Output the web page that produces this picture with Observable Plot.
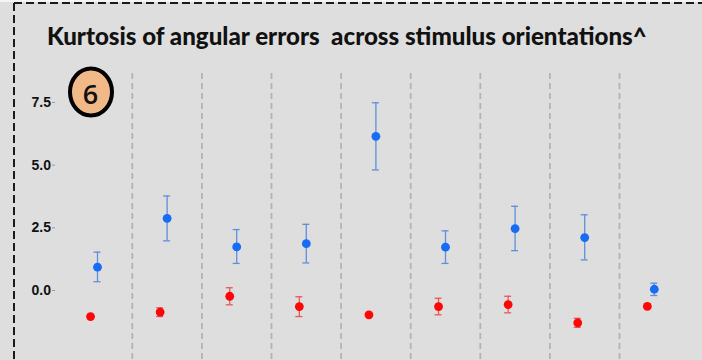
<!DOCTYPE html>
<html>
<head>
<meta charset="utf-8">
<script src="https://cdn.jsdelivr.net/npm/d3@7"></script>
<script src="https://cdn.jsdelivr.net/npm/@observablehq/plot@0.6"></script>
<style>
  html, body { margin: 0; padding: 0; background: #dedede; }
  #wrap { position: relative; width: 702px; height: 360px; background: #dedede; overflow: hidden; }
  #wrap > svg.plot { position: absolute; left: 0; top: 0; }
  #title { position: absolute; left: 47px; top: 24px; font-family: Lato, "Open Sans", sans-serif; font-weight: 900; color: #111; white-space: pre; line-height: 1; }
  #deco { position: absolute; left: 0; top: 0; }
</style>
</head>
<body>
<div id="wrap">
  <div id="title">Kurtosis of angular errors  across stimulus orientations^</div>
</div>
<script>
// ---- data ----
const orientations = [1, 2, 3, 4, 5, 6, 7, 8, 9];
const blueValue = [0.93, 2.88, 1.74, 1.87, 6.15, 1.73, 2.47, 2.11, 0.05];
const blueLow   = [0.35, 1.98, 1.08, 1.10, 4.81, 1.08, 1.59, 1.22, -0.20];
const blueHigh  = [1.53, 3.77, 2.43, 2.64, 7.49, 2.38, 3.36, 3.02, 0.29];
const redValue  = [-1.04, -0.86, -0.23, -0.64, -0.97, -0.64, -0.56, -1.29, -0.63];
const redLow    = [-1.04, -1.04, -0.57, -1.04, -0.97, -0.97, -0.89, -1.47, -0.63];
const redHigh   = [-1.04, -0.69, 0.11, -0.25, -0.97, -0.31, -0.23, -1.11, -0.63];
const yTicks = [0, 2.5, 5, 7.5];
const badgeLabel = "6";

const series = [
  {name: "blue", offset: 0, values: blueValue, low: blueLow, high: blueHigh, dot: "#166cf2", bar: "#5d8fdc"},
  {name: "red", offset: -0.1, values: redValue, low: redLow, high: redHigh, dot: "#ff0505", bar: "#e5585c"}
];
const rows = series.flatMap(s => orientations.map((o, i) => ({
  series: s.name, x: i + s.offset, value: s.values[i], low: s.low[i], high: s.high[i], dot: s.dot, bar: s.bar
})));
const errRows = rows.filter(d => d.high - d.low > 0.05);
const capHalf = 0.05;
const dividers = orientations.slice(1).map((_, i) => i + 0.5);

const chart = Plot.plot({
  width: 702,
  height: 360,
  marginLeft: 55,
  marginTop: 0,
  marginBottom: 0,
  marginRight: 0,
  style: {background: "transparent", overflow: "visible"},
  x: {domain: [-0.5, orientations.length - 0.5], range: [62.2, 688.6], axis: null},
  y: {domain: [0, 7.5], range: [290, 102]},
  marks: [
    Plot.ruleX(dividers, {x: d => d, y1: 8.66, y2: -3.2, stroke: "#b3b3b3", strokeWidth: 1.8, strokeDasharray: "6,4"}),
    Plot.axisY({ticks: yTicks, tickFormat: d3.format(".1f"), tickSize: 3, tickPadding: 1.5, stroke: "#9a9a9a",
      fontSize: 14, fontWeight: "bold", fill: "#111", fontFamily: "Liberation Sans, Arial, sans-serif", label: null}),
    Plot.ruleX(errRows, {x: "x", y1: "low", y2: "high", stroke: "bar", strokeWidth: 1.3}),
    Plot.ruleY(errRows, {y: "high", x1: d => d.x - capHalf, x2: d => d.x + capHalf, stroke: "bar", strokeWidth: 1.3}),
    Plot.ruleY(errRows, {y: "low", x1: d => d.x - capHalf, x2: d => d.x + capHalf, stroke: "bar", strokeWidth: 1.3}),
    Plot.dot(rows, {x: "x", y: "value", r: 4.4, fill: "dot", stroke: "none"})
  ]
});
chart.classList.add("plot");
const wrap = document.getElementById("wrap");
wrap.insertBefore(chart, wrap.firstChild);

// fit title to its measured span in the reference
const title = document.getElementById("title");
const targetW = 600;
let fs = 20;
title.style.fontSize = fs + "px";
const w0 = title.getBoundingClientRect().width;
fs = fs * targetW / w0;
title.style.fontSize = fs + "px";

// decoration: dashed frame, badge
const ns = "http://www.w3.org/2000/svg";
const deco = document.createElementNS(ns, "svg");
deco.setAttribute("id", "deco");
deco.setAttribute("width", 702);
deco.setAttribute("height", 360);
deco.innerHTML = `
  <rect x="0" y="0" width="702" height="2" fill="#f4f4f4"></rect>
  <line x1="14" y1="3" x2="702" y2="3" stroke="#1a1a1a" stroke-width="2" stroke-dasharray="8,4"></line>
  <line x1="14" y1="3" x2="14" y2="360" stroke="#1a1a1a" stroke-width="2" stroke-dasharray="8,4"></line>
  <ellipse cx="91" cy="92" rx="21" ry="23.5" fill="#f1b988" stroke="#000" stroke-width="4"></ellipse>
  <text x="90.5" y="93" text-anchor="middle" dominant-baseline="central" font-family="Open Sans, Lato, sans-serif" font-weight="600" font-size="27" fill="#111">${badgeLabel}</text>
`;
wrap.appendChild(deco);
</script>
</body>
</html>
